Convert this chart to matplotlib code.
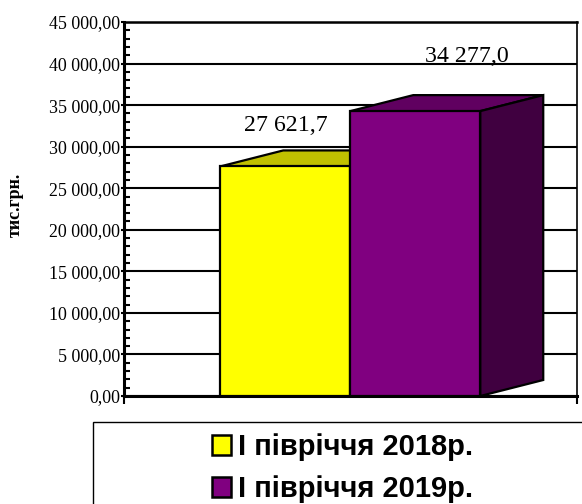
import matplotlib
matplotlib.use("Agg")
import matplotlib.pyplot as plt
from matplotlib.patches import Polygon, Rectangle
from matplotlib.ticker import MultipleLocator

series_names = ["І півріччя 2018р.", "І півріччя 2019р."]
values = [27621.7, 34277.0]
value_labels = ["27 621,7", "34 277,0"]
colors = ["#FFFF00", "#800080"]
top_colors = ["#C0C000", "#600060"]
side_colors = ["#C0C000", "#400040"]
y_ticks = [0, 5000, 10000, 15000, 20000, 25000, 30000, 35000, 40000, 45000]
y_tick_labels = ["0,00", "5 000,00", "10 000,00", "15 000,00", "20 000,00",
                 "25 000,00", "30 000,00", "35 000,00", "40 000,00", "45 000,00"]
y_title = "тис.грн."

W, H = 582, 504
fig = plt.figure(figsize=(W / 100, H / 100), dpi=100, facecolor="white")
L, R, T, B = 123.5, 577, 22, 396
ax = fig.add_axes([L / W, 1 - B / H, (R - L) / W, (B - T) / H])
ax.set_xlim(-0.5, 0.5)
ax.set_ylim(0, 45000)

bar_w = 130 / (R - L)
depth_x = 63 / (R - L)
depth_y = 16 * 45000 / (B - T)
label_offsets_px = [(1, 35), (52, 49)]

ax.set_axisbelow(True)
ax.yaxis.grid(True, color="black", lw=1.5, zorder=0)
ax.xaxis.grid(False)
ax.yaxis.set_major_locator(MultipleLocator(5000))
ax.yaxis.set_minor_locator(MultipleLocator(1000))
ax.set_yticks(y_ticks)
ax.set_yticklabels(y_tick_labels, family="Liberation Serif", fontsize=12.9)
ax.set_xticks([-0.5, 0.5])
ax.set_xticklabels([])
ax.tick_params(axis="y", which="major", direction="out", length=2, width=1.5, pad=0.5)
ax.tick_params(axis="y", which="minor", direction="in", length=4, width=1.5)
ax.tick_params(axis="x", which="major", direction="out", length=6, width=1.5)
ax.spines["right"].set_linewidth(1.2)
ax.spines["top"].set_linewidth(1.8)
ax.spines["left"].set_linewidth(2.2)
ax.spines["bottom"].set_linewidth(2.2)

lw = 1.6
for i, v in enumerate(values):
    x0 = -bar_w + i * bar_w
    x1 = x0 + bar_w
    ax.add_patch(Polygon([(x0, v), (x0 + depth_x, v + depth_y), (x1 + depth_x, v + depth_y), (x1, v)],
                         fc=top_colors[i], ec="black", lw=lw, zorder=3 + i, clip_on=False, joinstyle="miter"))
    ax.add_patch(Polygon([(x1, 0), (x1 + depth_x, depth_y), (x1 + depth_x, v + depth_y), (x1, v)],
                         fc=side_colors[i], ec="black", lw=lw, zorder=3 + i, clip_on=False, joinstyle="miter"))
    ax.add_patch(Rectangle((x0, 0), bar_w, v, fc=colors[i], ec="black", lw=lw, zorder=3 + i, clip_on=False))
    ox, oy = label_offsets_px[i]
    ax.annotate(value_labels[i], xy=(x0 + bar_w / 2, v), xycoords="data",
                xytext=(ox * 0.72, oy * 0.72), textcoords="offset points",
                family="Liberation Serif", fontsize=17.2, ha="center", va="baseline", zorder=6)

fig.text(15 / W, 1 - 205 / H, y_title, rotation=90, family="Liberation Serif", fontweight="bold",
         fontsize=13, ha="center", va="center")

# legend frame runs off the right and bottom of the picture
fig.add_artist(Rectangle((92.5 / W, 1 - 530 / H), 520 / W, 108 / H, transform=fig.transFigure,
                         fc="white", ec="black", lw=1))
for name, c, base in zip(series_names, colors, [455, 497]):
    fig.add_artist(Rectangle((211.5 / W, 1 - (base - 0.5) / H), 19.5 / W, 20 / H, transform=fig.transFigure,
                             fc=c, ec="black", lw=1.8))
    fig.text(238 / W, 1 - base / H, name, family="Liberation Sans", fontweight="bold",
             fontsize=21, ha="left", va="baseline")

fig.savefig("out.png", dpi=100)
